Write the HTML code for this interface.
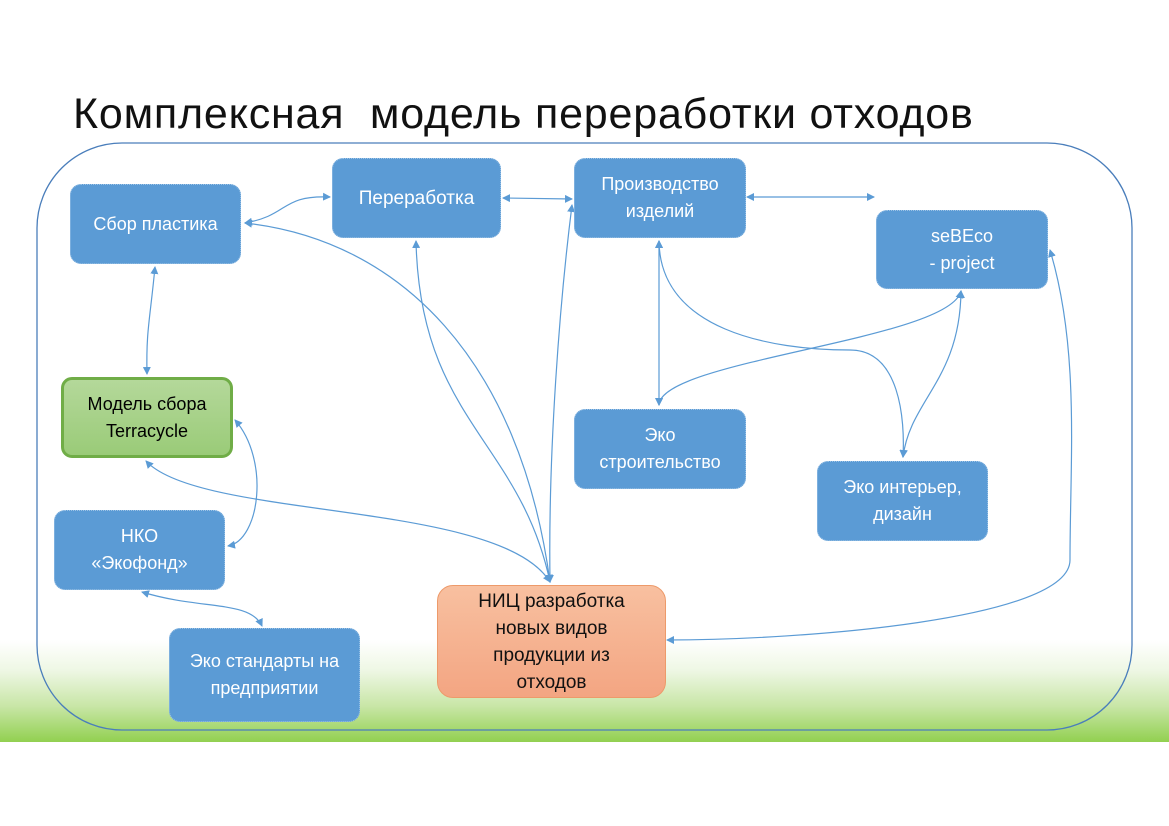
<!DOCTYPE html>
<html><head><meta charset="utf-8"><style>
body{margin:0;width:1169px;height:826px;background:#fff;position:relative;overflow:hidden;font-family:"Liberation Sans","DejaVu Sans",sans-serif}
.g{position:absolute;left:0;top:640px;width:1169px;height:102px;background:linear-gradient(#ffffff 0%,#eef7e4 30%,#c8e6a6 65%,#92d050 100%)}
.t{position:absolute;left:73px;top:90px;font-size:43px;color:#111;letter-spacing:0.8px;white-space:pre}
.b{position:absolute;background:#5b9bd5;border:1px dotted #9dc3e6;border-radius:11px;color:#fff;font-size:18px;display:flex;align-items:center;justify-content:center;text-align:center;line-height:27px;box-sizing:border-box}
svg{position:absolute;left:0;top:0}
</style></head><body>
<div class="g"></div>
<div class="t">Комплексная  модель переработки отходов</div>
<svg width="1169" height="826">
<defs><marker id="a" markerWidth="8" markerHeight="8" refX="7" refY="4" orient="auto-start-reverse" markerUnits="userSpaceOnUse"><path d="M0,0 L8,4 L0,8z" fill="#5b9bd5"/></marker></defs>
<rect x="37" y="143" width="1095" height="587" rx="85" fill="none" stroke="#4a7ebb" stroke-width="1.3"/>
<g fill="none" stroke="#5b9bd5" stroke-width="1.2" marker-start="url(#a)" marker-end="url(#a)">
<path d="M155,267 C150,320 146,330 147,374"/>
<path d="M245,223 C290,215 280,195 330,197"/>
<path d="M245,223 C400,240 520,360 550,582"/>
<path d="M416,241 C420,420 520,440 550,582"/>
<path d="M503,198 L572,199"/>
<path d="M572,205 C560,300 548,450 550,582"/>
<path d="M747,197 L874,197"/>
<path d="M659,241 L659,405"/>
<path d="M659,241 C660,330 770,350 850,350 C900,350 905,420 903,457"/>
<path d="M659,405 C660,360 950,340 961,291"/>
<path d="M961,291 C960,380 910,400 903,457"/>
<path d="M1050,250 C1080,350 1070,460 1070,560 C1070,620 800,640 667,640"/>
<path d="M146,461 C200,520 500,500 550,582"/>
<path d="M235,420 C270,460 260,540 228,546"/>
<path d="M142,592 C200,610 250,600 262,626"/>
</g>
</svg>
<div class="b" style="left:70px;top:184px;width:171px;height:80px">Сбор пластика</div>
<div class="b" style="left:332px;top:158px;width:169px;height:80px;font-size:19px">Переработка</div>
<div class="b" style="left:574px;top:158px;width:172px;height:80px">Производство<br>изделий</div>
<div class="b" style="left:876px;top:210px;width:172px;height:79px">seBEco<br>- project</div>
<div class="b" style="left:61px;top:377px;width:172px;height:81px;background:linear-gradient(#b4d89a,#9acb78);border:3px solid #70ad47;color:#000">Модель сбора<br>Terracycle</div>
<div class="b" style="left:574px;top:409px;width:172px;height:80px">Эко<br>строительство</div>
<div class="b" style="left:817px;top:461px;width:171px;height:80px">Эко интерьер,<br>дизайн</div>
<div class="b" style="left:54px;top:510px;width:171px;height:80px">НКО<br>«Экофонд»</div>
<div class="b" style="left:169px;top:628px;width:191px;height:94px">Эко стандарты на<br>предприятии</div>
<div class="b" style="left:437px;top:585px;width:229px;height:113px;background:linear-gradient(#f8c0a0,#f3a582);border:1px solid #ed9a6a;color:#111;font-size:19px;line-height:27px;border-radius:16px">НИЦ разработка<br>новых видов<br>продукции из<br>отходов</div>
</body></html>
